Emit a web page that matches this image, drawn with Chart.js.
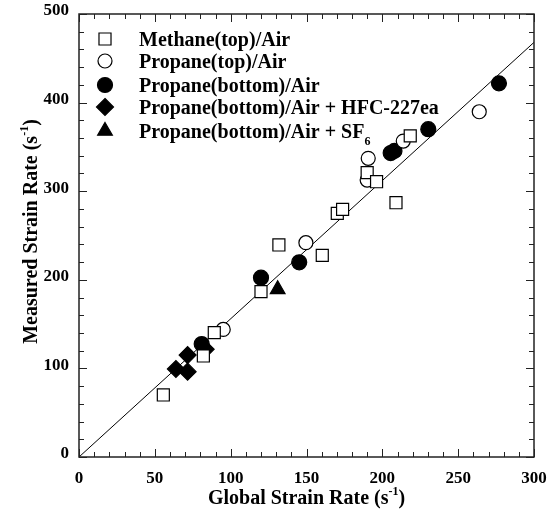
<!DOCTYPE html>
<html>
<head>
<meta charset="utf-8">
<script src="https://cdn.jsdelivr.net/npm/chart.js@4/dist/chart.umd.min.js"></script>
<style>
body { margin: 0; background: #fff; }
#wrap { width: 560px; height: 519px; }
</style>
</head>
<body>
<div id="wrap"><canvas id="strainChart" width="560" height="519"></canvas></div>
<script>
// Values (x = global strain rate, y = measured strain rate)
const methaneTopX = [55.6, 82, 89.2, 120, 131.8, 160.4, 170.3, 173.8, 190, 196.2, 209, 218.4];
const methaneTopY = [70, 114, 140.3, 186.6, 239.3, 227.6, 275, 279.5, 321, 310.7, 287, 362.5];

const propaneTopX = [95.1, 149.6, 190, 190.7, 213.8, 263.9];
const propaneTopY = [144, 241.9, 312.6, 337.1, 356.6, 389.7];

const propaneBottomX = [80.9, 120, 145.2, 205.5, 208, 230.3, 276.9];
const propaneBottomY = [127.5, 202.4, 219.7, 343, 345.5, 370, 421.7];

const hfcX = [63.9, 71.6, 71.6, 83.5];
const hfcY = [99.3, 96.3, 115, 121.6];

const sf6X = [131];
const sf6Y = [189.3];

const fitX = [0, 300];
const fitY = [0, 468];

const xTicks = [0, 50, 100, 150, 200, 250, 300];
const yTicks = [0, 100, 200, 300, 400, 500];

const legendLabels = [
"Methane(top)/Air",
"Propane(top)/Air",
"Propane(bottom)/Air",
"Propane(bottom)/Air + HFC-227ea",
"Propane(bottom)/Air + SF"
];

const FONT = "'Liberation Serif', 'Times New Roman', serif";

const toPoints = (xs, ys) => xs.map((x, i) => ({ x: x, y: ys[i] }));

// marker styles shared by the plot and the legend
const markers = [
{ shape: "rect", radius: 8.5, fill: "#fff" },
{ shape: "circle", radius: 7, fill: "#fff" },
{ shape: "circle", radius: 7.5, fill: "#000" },
{ shape: "rectRot", radius: 8.5, fill: "#000" },
{ shape: "triangle", radius: 8.5, fill: "#000" }
];

const seriesData = [
toPoints(methaneTopX, methaneTopY),
toPoints(propaneTopX, propaneTopY),
toPoints(propaneBottomX, propaneBottomY),
toPoints(hfcX, hfcY),
toPoints(sf6X, sf6Y)
];

const datasets = seriesData.map((pts, i) => ({
type: "scatter",
label: legendLabels[i],
data: pts,
pointStyle: markers[i].shape,
pointRadius: markers[i].radius,
pointHoverRadius: markers[i].radius,
pointBackgroundColor: markers[i].fill,
pointBorderColor: "#000",
pointBorderWidth: 1.2
}));

datasets.push({
type: "line",
label: "fit",
data: toPoints(fitX, fitY),
borderColor: "#000",
borderWidth: 1,
pointRadius: 0,
fill: false,
order: 10
});


// Draw a marker by hand (legend)
function drawMarker(ctx, m, x, y){

ctx.save();
ctx.beginPath();
const r = m.radius;

if(m.shape === "rect"){
const s = Math.SQRT1_2 * r;
ctx.rect(x - s, y - s, 2 * s, 2 * s);
}
else if(m.shape === "circle"){
ctx.arc(x, y, r, 0, Math.PI * 2);
}
else if(m.shape === "rectRot"){
ctx.moveTo(x, y - r);
ctx.lineTo(x + r, y);
ctx.lineTo(x, y + r);
ctx.lineTo(x - r, y);
ctx.closePath();
}
else if(m.shape === "triangle"){
ctx.moveTo(x, y - r);
ctx.lineTo(x + r * 0.866, y + r * 0.5);
ctx.lineTo(x - r * 0.866, y + r * 0.5);
ctx.closePath();
}

ctx.fillStyle = m.fill;
ctx.fill();
ctx.lineWidth = 1.2;
ctx.strokeStyle = "#000";
ctx.stroke();
ctx.restore();

}


// Text with a raised or lowered small part, e.g. "(s" + "-1" + ")"
function drawRichText(ctx, parts, x, y, size, align){

ctx.save();
ctx.textBaseline = "alphabetic";
ctx.textAlign = "left";

const widths = parts.map((p) => {
ctx.font = `bold ${p.small ? size * 0.6 : size}px ${FONT}`;
return ctx.measureText(p.text).width;
});

const total = widths.reduce((a, b) => a + b, 0);
let cx = align === "center" ? x - total / 2 : x;

parts.forEach((p, i) => {
ctx.font = `bold ${p.small ? size * 0.6 : size}px ${FONT}`;
ctx.fillStyle = "#000";
ctx.fillText(p.text, cx, y + (p.shift || 0));
cx += widths[i];
});

ctx.restore();

}


// Frame, inward ticks, legend and axis titles
const decorPlugin = {

id: "decor",

afterDraw(chart){

const ctx = chart.ctx;
const xs = chart.scales.x;
const ys = chart.scales.y;
const a = chart.chartArea;

ctx.save();
ctx.strokeStyle = "#222";
ctx.lineWidth = 1.5;
ctx.strokeRect(a.left, a.top, a.right - a.left, a.bottom - a.top);

ctx.lineWidth = 1;
ctx.beginPath();

for(let v = 0; v <= 300; v += 10){
const px = Math.round(xs.getPixelForValue(v)) + 0.5;
const len = v % 50 === 0 ? 8 : 5;
ctx.moveTo(px, a.bottom);
ctx.lineTo(px, a.bottom - len);
ctx.moveTo(px, a.top);
ctx.lineTo(px, a.top + len);
}

for(let v = 0; v <= 500; v += 20){
const py = Math.round(ys.getPixelForValue(v)) + 0.5;
const len = v % 100 === 0 ? 8 : 5;
ctx.moveTo(a.left, py);
ctx.lineTo(a.left + len, py);
ctx.moveTo(a.right, py);
ctx.lineTo(a.right - len, py);
}

ctx.stroke();
ctx.restore();


// Legend
const rows = [39, 61, 85, 107, 131];

legendLabels.forEach((label, i) => {

drawMarker(ctx, markers[i], 105, rows[i]);

const parts = [{ text: label }];
if(i === 4) parts.push({ text: "6", small: true, shift: 7 });

drawRichText(ctx, parts, 139, rows[i] + 7, 20, "left");

});


// Axis titles
drawRichText(ctx, [
{ text: "Global Strain Rate (s" },
{ text: "-1", small: true, shift: -9 },
{ text: ")" }
], (a.left + a.right) / 2, 504, 20, "center");

ctx.save();
ctx.translate(37, (a.top + a.bottom) / 2 - 4);
ctx.rotate(-Math.PI / 2);
drawRichText(ctx, [
{ text: "Measured Strain Rate (s" },
{ text: "-1", small: true, shift: -9 },
{ text: ")" }
], 0, 0, 20, "center");
ctx.restore();

}

};


new Chart(document.getElementById("strainChart").getContext("2d"), {

data: { datasets: datasets },

options: {
responsive: false,
animation: false,
devicePixelRatio: 1,
layout: {
padding: { top: 14, right: 26, left: 0, bottom: 0 }
},
plugins: {
legend: { display: false },
tooltip: { enabled: false }
},
scales: {
x: {
type: "linear",
min: 0,
max: 300,
afterFit: (scale) => { scale.height = 62; },
afterBuildTicks: (scale) => { scale.ticks = xTicks.map((v) => ({ value: v })); },
grid: { display: false, drawTicks: false },
border: { display: false },
ticks: {
padding: 11,
color: "#000",
font: { family: FONT, size: 17, weight: "bold" }
}
},
y: {
type: "linear",
min: 0,
max: 500,
afterFit: (scale) => { scale.width = 79; },
afterBuildTicks: (scale) => { scale.ticks = yTicks.map((v) => ({ value: v })); },
grid: { display: false, drawTicks: false },
border: { display: false },
ticks: {
padding: 10,
labelOffset: -3,
color: "#000",
font: { family: FONT, size: 17, weight: "bold", lineHeight: 0.4 }
}
}
}
},

plugins: [decorPlugin]

});
</script>
</body>
</html>
